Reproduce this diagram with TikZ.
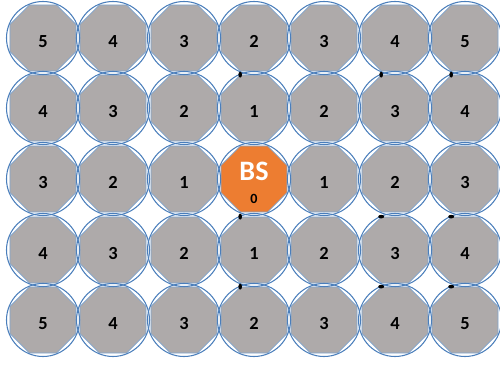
\documentclass[tikz,border=0pt]{standalone}
\usepackage{fontspec}
\setmainfont{Carlito}
\usetikzlibrary{shapes.geometric}
\definecolor{cellgray}{HTML}{AEAAAA}
\definecolor{bsorange}{HTML}{ED7D31}
\definecolor{ringblue}{HTML}{4A7EBB}

\begin{document}
\begin{tikzpicture}
    [x=0.02cm,y=-0.02cm,
    cell/.style={regular polygon,regular polygon sides=8,minimum size=1.43cm,
        inner sep=0pt,fill=cellgray,draw=ringblue!70,line width=0.4pt,
        font=\fontsize{10.5}{11}\selectfont\bfseries,text height=10.5pt,text depth=0pt},
    ring/.style={draw=ringblue,line width=0.6pt},
    bstext/.style={text=white,font=\fontsize{16}{16}\selectfont\bfseries,inner sep=0pt},
    numtext/.style={font=\fontsize{8}{8}\selectfont\bfseries,inner sep=0pt}]
    \useasboundingbox (0,0) rectangle (500,367);
    %row 1
    \node[cell] (c11) at (43,38) {5};
    \node[cell] (c12) at (113,38) {4};
    \node[cell] (c13) at (184,38) {3};
    \node[cell] (c14) at (254,38) {2};
    \node[cell] (c15) at (324,38) {3};
    \node[cell] (c16) at (395,38) {4};
    \node[cell] (c17) at (465,38) {5};
    %row 2
    \node[cell] (c21) at (43,108) {4};
    \node[cell] (c22) at (113,108) {3};
    \node[cell] (c23) at (184,108) {2};
    \node[cell] (c24) at (254,108) {1};
    \node[cell] (c25) at (324,108) {2};
    \node[cell] (c26) at (395,108) {3};
    \node[cell] (c27) at (465,108) {4};
    %row 3 (base station in the middle)
    \node[cell] (c31) at (43,179) {3};
    \node[cell] (c32) at (113,179) {2};
    \node[cell] (c33) at (184,179) {1};
    \node[cell,fill=bsorange] (c34) at (254,179) {};
    \node[cell] (c35) at (324,179) {1};
    \node[cell] (c36) at (395,179) {2};
    \node[cell] (c37) at (465,179) {3};
    %row 4
    \node[cell] (c41) at (43,250) {4};
    \node[cell] (c42) at (113,250) {3};
    \node[cell] (c43) at (184,250) {2};
    \node[cell] (c44) at (254,250) {1};
    \node[cell] (c45) at (324,250) {2};
    \node[cell] (c46) at (395,250) {3};
    \node[cell] (c47) at (465,250) {4};
    %row 5
    \node[cell] (c51) at (43,320) {5};
    \node[cell] (c52) at (113,320) {4};
    \node[cell] (c53) at (184,320) {3};
    \node[cell] (c54) at (254,320) {2};
    \node[cell] (c55) at (324,320) {3};
    \node[cell] (c56) at (395,320) {4};
    \node[cell] (c57) at (465,320) {5};
    %base station label
    \node[bstext] (bsname) at (254,171) {BS};
    \node[numtext] (bsnum) at (254,199) {0};
    %circles round the cells
    \foreach \r in {1,...,5}
        \foreach \c in {1,...,7}
            \draw[ring] (c\r\c.center) circle[radius=36.5];
    %small marks
    \fill (c24.corner 2) ellipse[x radius=1.8,y radius=3];
    \fill (c26.corner 2) ellipse[x radius=1.8,y radius=3];
    \fill (c27.corner 2) ellipse[x radius=1.8,y radius=3];
    \fill (c44.corner 2) ellipse[x radius=1.8,y radius=3];
    \fill (c46.corner 2) ellipse[x radius=3,y radius=1.8];
    \fill (c47.corner 2) ellipse[x radius=3,y radius=1.8];
    \fill (c54.corner 2) ellipse[x radius=1.8,y radius=3];
    \fill (c56.corner 2) ellipse[x radius=3,y radius=1.8];
    \fill (c57.corner 2) ellipse[x radius=3,y radius=1.8];
\end{tikzpicture}
\end{document}
